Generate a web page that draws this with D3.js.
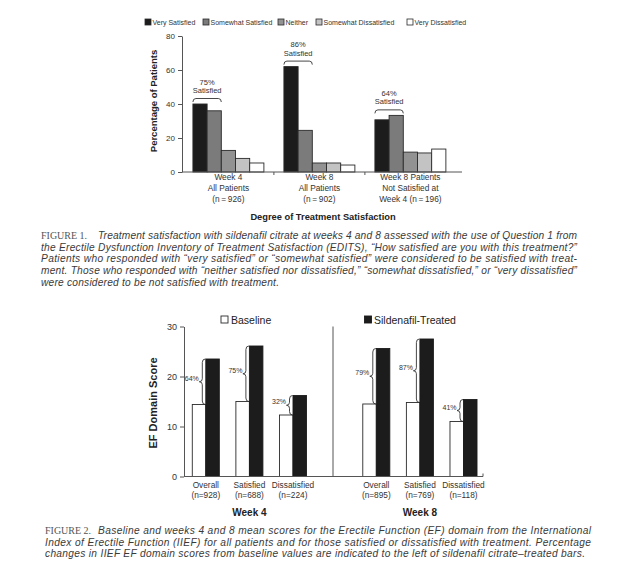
<!DOCTYPE html>
<html><head><meta charset="utf-8">
<script src="https://cdn.jsdelivr.net/npm/d3@7"></script>
<style>body{margin:0;background:#fff}svg{display:block}</style>
</head><body><svg id="c" width="635" height="573"></svg>
<script>
// ---------- Figure 1 data ----------
const satGroups = ["wk4all", "wk8all", "wk8not"];
const satGroupLabels = [["Week 4", "All Patients", "(n\u2009=\u2009926)"], ["Week 8", "All Patients", "(n\u2009=\u2009902)"], ["Week 8 Patients", "Not Satisfied at", "Week 4 (n\u2009=\u2009196)"]];
const satCategories = ["Very Satisfied", "Somewhat Satisfied", "Neither", "Somewhat Dissatisfied", "Very Dissatisfied"];
const verySatisfied = [40, 62, 30.7];
const somewhatSatisfied = [36, 24.5, 33.3];
const neitherSat = [12.7, 5.3, 11.7];
const somewhatDissatisfied = [8, 5.3, 11.2];
const veryDissatisfied = [5.3, 4.1, 13.5];
const satisfiedPct = ["75%", "86%", "64%"];
const satTicks = [0, 20, 40, 60, 80];

// ---------- Figure 2 data ----------
const efWeeks = ["Week 4", "Week 8"];
const efCategories = ["Overall", "Satisfied", "Dissatisfied"];
const efN = [["(n=928)", "(n=688)", "(n=224)"], ["(n=895)", "(n=769)", "(n=118)"]];
const baselineWk4 = [14.4, 15.0, 12.3];
const treatedWk4 = [23.5, 26.1, 16.2];
const baselineWk8 = [14.5, 14.8, 11.0];
const treatedWk8 = [25.6, 27.5, 15.4];
const efPct = [["64%", "75%", "32%"], ["79%", "87%", "41%"]];
const efTicks = [0, 10, 20, 30];

// ---------- captions ----------
const caption1Lines = [
  "Treatment satisfaction with sildenafil citrate at weeks 4 and 8 assessed with the use of Question 1 from",
  "the Erectile Dysfunction Inventory of Treatment Satisfaction (EDITS), \u201cHow satisfied are you with this treatment?\u201d",
  "Patients who responded with \u201cvery satisfied\u201d or \u201csomewhat satisfied\u201d were considered to be satisfied with treat-",
  "ment. Those who responded with \u201cneither satisfied nor dissatisfied,\u201d \u201csomewhat dissatisfied,\u201d or \u201cvery dissatisfied\u201d",
  "were considered to be not satisfied with treatment."
];
const caption2Lines = [
  "Baseline and weeks 4 and 8 mean scores for the Erectile Function (EF) domain from the International",
  "Index of Erectile Function (IIEF) for all patients and for those satisfied or dissatisfied with treatment. Percentage",
  "changes in IIEF EF domain scores from baseline values are indicated to the left of sildenafil citrate\u2013treated bars."
];

const svg = d3.select("#c");
svg.append("rect").attr("width", 635).attr("height", 573).attr("fill", "#fff");
const FONT = "'Liberation Sans', Arial, sans-serif";
const AX = "#555";

// ================= FIGURE 1 =================
const satColors = ["#1c1c1c", "#7b7b7b", "#929292", "#c3c3c3", "#ffffff"];
const satSeries = [verySatisfied, somewhatSatisfied, neitherSat, somewhatDissatisfied, veryDissatisfied];
const y1 = d3.scaleLinear().domain([0, 80]).range([172, 36]);
const x1 = d3.scaleBand().domain(satGroups).range([182, 456.8]).paddingInner(0.22).paddingOuter(0.12);
const x1in = d3.scaleBand().domain(satCategories).range([0, x1.bandwidth()]);
const g1 = svg.append("g");

satGroups.forEach((grp, gi) => {
  satCategories.forEach((cat, ci) => {
    const v = satSeries[ci][gi];
    g1.append("rect")
      .attr("x", x1(grp) + x1in(cat)).attr("y", y1(v))
      .attr("width", x1in.bandwidth()).attr("height", y1(0) - y1(v))
      .attr("fill", satColors[ci]).attr("stroke", "#2a2a2a").attr("stroke-width", 0.9);
  });
});

const ya1 = g1.append("g").attr("transform", "translate(182,0)")
  .call(d3.axisLeft(y1).tickValues(satTicks).tickSize(4).tickSizeOuter(0).tickPadding(3));
ya1.selectAll("path,line").attr("stroke", AX);
ya1.selectAll("text").attr("font-family", FONT).attr("font-size", 8).attr("fill", "#333");

g1.append("line").attr("x1", 182).attr("x2", 462).attr("y1", y1(0)).attr("y2", y1(0)).attr("stroke", AX);
satGroups.slice(0, 2).forEach(grp => {
  const xs = x1(grp) + x1.bandwidth() + x1.step() * x1.paddingInner() / 2;
  g1.append("line").attr("x1", xs).attr("x2", xs).attr("y1", y1(0)).attr("y2", y1(0) + 3).attr("stroke", AX);
});

satGroups.forEach((grp, gi) => {
  const cx = x1(grp) + x1.bandwidth() / 2;
  satGroupLabels[gi].forEach((t, li) => {
    g1.append("text").attr("x", cx).attr("y", 180 + li * 11)
      .attr("text-anchor", "middle").attr("font-family", FONT).attr("font-size", 8.3).attr("fill", "#333").text(t);
  });
});

satGroups.forEach((grp, gi) => {
  const xa = x1(grp) + x1in(satCategories[0]);
  const xb = x1(grp) + x1in(satCategories[1]) + x1in.bandwidth();
  const yb = y1(Math.max(verySatisfied[gi], somewhatSatisfied[gi])) - 5.5;
  g1.append("path").attr("d", `M${xa},${yb + 3.5} Q${xa},${yb} ${xa + 3},${yb} L${xb - 3},${yb} Q${xb},${yb} ${xb},${yb + 3.5}`)
    .attr("fill", "none").attr("stroke", "#333").attr("stroke-width", 0.9);
  const cx = (xa + xb) / 2;
  g1.append("text").attr("x", cx).attr("y", yb - 14).attr("text-anchor", "middle").attr("font-family", FONT).attr("font-size", 7.5).attr("fill", "#333").text(satisfiedPct[gi]);
  g1.append("text").attr("x", cx).attr("y", yb - 5.5).attr("text-anchor", "middle").attr("font-family", FONT).attr("font-size", 7.5).attr("fill", "#333").text("Satisfied");
});

g1.append("text").attr("transform", "translate(157,101) rotate(-90)").attr("text-anchor", "middle")
  .attr("font-family", FONT).attr("font-weight", "bold").attr("font-size", 9.5).attr("fill", "#222").text("Percentage of Patients");
g1.append("text").attr("x", 323).attr("y", 220).attr("text-anchor", "middle")
  .attr("font-family", FONT).attr("font-weight", "bold").attr("font-size", 9.3).attr("fill", "#222").text("Degree of Treatment Satisfaction");

const legX = [145, 203, 278, 316, 407];
satCategories.forEach((cat, ci) => {
  g1.append("rect").attr("x", legX[ci]).attr("y", 19).attr("width", 6).attr("height", 6)
    .attr("fill", satColors[ci]).attr("stroke", "#2a2a2a").attr("stroke-width", 0.8);
  g1.append("text").attr("x", legX[ci] + 7.5).attr("y", 24.8).attr("font-family", FONT).attr("font-size", 7).attr("fill", "#333").text(cat);
});

// ================= FIGURE 2 =================
const y2 = d3.scaleLinear().domain([0, 30]).range([476.5, 326.5]);
const panelX = [[184, 314.8], [354.5, 485.3]];
const baseSeries = [baselineWk4, baselineWk8];
const treatSeries = [treatedWk4, treatedWk8];
const g2 = svg.append("g");

efWeeks.forEach((wk, wi) => {
  const xb = d3.scaleBand().domain(efCategories).range(panelX[wi]).paddingInner(0.38).paddingOuter(0.19);
  const half = xb.bandwidth() / 2;
  efCategories.forEach((cat, ci) => {
    const b = baseSeries[wi][ci], t = treatSeries[wi][ci];
    const x0 = xb(cat);
    g2.append("rect").attr("x", x0).attr("y", y2(b)).attr("width", half).attr("height", y2(0) - y2(b))
      .attr("fill", "#fff").attr("stroke", "#2a2a2a").attr("stroke-width", 0.9);
    g2.append("rect").attr("x", x0 + half).attr("y", y2(t)).attr("width", half).attr("height", y2(0) - y2(t))
      .attr("fill", "#1c1c1c").attr("stroke", "#1c1c1c").attr("stroke-width", 0.9);
    const xr = x0 + half - 0.5, yt = y2(t), ybt = y2(b), ym = (yt + ybt) / 2;
    g2.append("path").attr("d",
      `M${xr},${yt} Q${xr - 3},${yt} ${xr - 3},${yt + 3.5} L${xr - 3},${ym - 3} Q${xr - 3},${ym} ${xr - 6},${ym} ` +
      `Q${xr - 3},${ym} ${xr - 3},${ym + 3} L${xr - 3},${ybt - 3.5} Q${xr - 3},${ybt} ${xr},${ybt}`)
      .attr("fill", "none").attr("stroke", "#333").attr("stroke-width", 0.9);
    g2.append("text").attr("x", xr - 6.5).attr("y", ym - 1).attr("text-anchor", "end")
      .attr("font-family", FONT).attr("font-size", 7).attr("fill", "#333").text(efPct[wi][ci]);
    const cx = x0 + xb.bandwidth() / 2;
    g2.append("text").attr("x", cx).attr("y", 487.5).attr("text-anchor", "middle").attr("font-family", FONT).attr("font-size", 8.3).attr("fill", "#333").text(cat);
    g2.append("text").attr("x", cx).attr("y", 497.5).attr("text-anchor", "middle").attr("font-family", FONT).attr("font-size", 8.3).attr("fill", "#333").text(efN[wi][ci]);
  });
  g2.append("text").attr("x", (xb(efCategories[0]) + xb(efCategories[2]) + xb.bandwidth()) / 2).attr("y", 516)
    .attr("text-anchor", "middle").attr("font-family", FONT).attr("font-weight", "bold").attr("font-size", 10).attr("fill", "#222").text(wk);
});

const ya2 = g2.append("g").attr("transform", "translate(184,0)")
  .call(d3.axisLeft(y2).tickValues(efTicks).tickSize(4).tickSizeOuter(0).tickPadding(3));
ya2.selectAll("path,line").attr("stroke", AX);
ya2.selectAll("text").attr("font-family", FONT).attr("font-size", 9).attr("fill", "#333");
g2.append("line").attr("x1", 184).attr("x2", 483).attr("y1", y2(0)).attr("y2", y2(0)).attr("stroke", AX);
g2.append("line").attr("x1", 483).attr("x2", 483).attr("y1", y2(0)).attr("y2", y2(0) - 3).attr("stroke", AX);
g2.append("line").attr("x1", 333).attr("x2", 333).attr("y1", y2(30)).attr("y2", y2(0)).attr("stroke", AX);

g2.append("text").attr("transform", "translate(157,403) rotate(-90)").attr("text-anchor", "middle")
  .attr("font-family", FONT).attr("font-weight", "bold").attr("font-size", 11).attr("fill", "#222").text("EF Domain Score");

g2.append("rect").attr("x", 221).attr("y", 316).attr("width", 7).attr("height", 7).attr("fill", "#fff").attr("stroke", "#2a2a2a").attr("stroke-width", 0.9);
g2.append("text").attr("x", 231).attr("y", 323.5).attr("font-family", FONT).attr("font-size", 10.5).attr("fill", "#222").text("Baseline");
g2.append("rect").attr("x", 364.5).attr("y", 316).attr("width", 7).attr("height", 7).attr("fill", "#1c1c1c").attr("stroke", "#1c1c1c").attr("stroke-width", 0.9);
g2.append("text").attr("x", 374).attr("y", 323.5).attr("font-family", FONT).attr("font-size", 10.5).attr("fill", "#222").text("Sildenafil-Treated");

// ================= CAPTIONS =================
const CAPF = "'Liberation Sans', Arial, sans-serif";
function caption(lines, label, xStart, xEnd, y0, dy, lastEnd) {
  svg.append("text").attr("x", xStart).attr("y", y0).attr("font-family", "'Liberation Serif', serif")
    .attr("font-size", 10).attr("fill", "#555").text(label);
  lines.forEach((ln, i) => {
    const xs = i === 0 ? 98 : xStart;
    const xe = i === lines.length - 1 ? lastEnd : xEnd;
    svg.append("text").attr("x", xs).attr("y", y0 + i * dy).attr("font-family", CAPF).attr("font-style", "italic")
      .attr("font-weight", "normal").attr("font-size", 10.2).attr("fill", "#3a3a3a")
      .attr("textLength", xe - xs).attr("lengthAdjust", "spacing").text(ln);
  });
}
caption(caption1Lines, "FIGURE 1.", 41, 577, 239, 11.7, 279);
caption(caption2Lines, "FIGURE 2.", 45, 591, 534, 11.7, 585);
</script></body></html>
